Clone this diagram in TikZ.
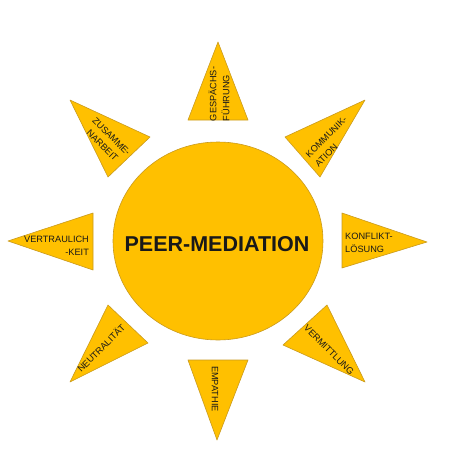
\documentclass[tikz,border=0pt]{standalone}
\usepackage{fontspec}
\setmainfont{Liberation Sans}
\usepackage{xcolor}
\usepackage{tikz}
\usetikzlibrary{shapes.geometric}
\definecolor{sungold}{HTML}{FFC000}
\definecolor{sunedge}{HTML}{C99A1E}

\begin{document}
\begin{tikzpicture}[
  x=1pt, y=-1pt,
  ray/.style={draw=sunedge, fill=sungold, line width=0.6pt, line join=round},
  disc/.style={ellipse, draw=sunedge, fill=sungold, line width=0.6pt, minimum width=210pt, minimum height=198pt},
  word/.style={font=\fontsize{9.2}{13}\selectfont, inner sep=0pt, text=black!90},
  title/.style={font=\fontsize{21.5}{24}\selectfont\bfseries, inner sep=0pt, text=black!90}
]
  \useasboundingbox (0,0) rectangle (451,453);

  \node[disc] (sun) at (218,241) {};
  \node[title] (core) at (217,244.5) {PEER-MEDIATION};

  \draw[ray] (218,42) -- (248,120) -- (188,120) -- cycle;
  \draw[ray] (365,100) -- (320,177) -- (285,137) -- cycle;
  \draw[ray] (427,242) -- (342,268) -- (342,213) -- cycle;
  \draw[ray] (365,382) -- (283,345) -- (327,305) -- cycle;
  \draw[ray] (217,440) -- (188,360) -- (248,360) -- cycle;
  \draw[ray] (70,382) -- (108,305) -- (148,343) -- cycle;
  \draw[ray] (8,241) -- (93,213) -- (93,270) -- cycle;
  \draw[ray] (70,100) -- (150,137) -- (108,177) -- cycle;

  \node[word, rotate=90, align=left] (fuehrung) at (219,94) {GESPÄCHS-\\FÜHRUNG};
  \node[word, rotate=45, align=left] (kommunikation) at (331,141.5) {KOMMUNIK-\\ATION};
  \node[word, align=left] (konflikt) at (369,243) {KONFLIKT-\\LÖSUNG};
  \node[word, rotate=-45] (vermittlung) at (329,350) {VERMITTLUNG};
  \node[word, rotate=-90] (empathie) at (215,389) {EMPATHIE};
  \node[word, rotate=45] (neutral) at (101,348) {NEUTRALITÄT};
  \node[word, align=right] (vertraulich) at (56.5,245.5) {VERTRAULICH\\-KEIT};
  \node[word, rotate=-45, align=center] (zusammen) at (107,141) {ZUSAMME-\\NARBEIT};
\end{tikzpicture}
\end{document}
